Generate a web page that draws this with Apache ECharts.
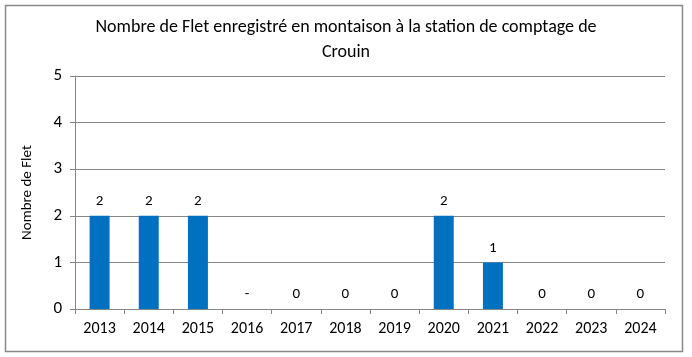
<!DOCTYPE html>
<html><head><meta charset="utf-8">
<script src="https://cdn.jsdelivr.net/npm/echarts@6/dist/echarts.min.js"></script>
<style>html,body{margin:0;padding:0;background:#fff}#c{width:692px;height:357px}</style>
</head><body><div id="c"></div>
<script>
const categories = ['2013','2014','2015','2016','2017','2018','2019','2020','2021','2022','2023','2024'];
const values = [2,2,2,null,0,0,0,2,1,0,0,0];
const yTicks = [0,1,2,3,4,5];
const titleText = 'Nombre de Flet enregistré en montaison à la station de comptage de\nCrouin';
const yName = 'Nombre de Flet';

const font = 'Carlito, Calibri, Lato, "Open Sans", sans-serif';
const chart = echarts.init(document.getElementById('c'));
chart.setOption({
  animation: false,
  graphic: [{type:'rect', shape:{x:5.5,y:5.5,width:677,height:346}, style:{fill:'none', stroke:'#888', lineWidth:1.5}, silent:true}],
  title: {text: titleText, left: 'center', top: 10, textStyle:{fontFamily: font, fontSize: 18, fontWeight:'normal', color:'#000', lineHeight:25}},
  grid: {left: 75, right: 27, top: 76, bottom: 48},
  xAxis: {type:'category', data: categories,
    axisLine:{lineStyle:{color:'#868686'}},
    axisTick:{show:true, alignWithLabel:false, length:5, lineStyle:{color:'#868686'}},
    axisLabel:{fontFamily: font, fontSize:16, color:'#000', margin:12}},
  yAxis: {type:'value', min: yTicks[0], max: yTicks[yTicks.length-1], interval: 1,
    name: yName, nameLocation:'middle', nameGap: 40, nameRotate: 90,
    nameTextStyle:{fontFamily: font, fontSize:15, color:'#000'},
    axisLine:{show:true, lineStyle:{color:'#868686'}},
    axisTick:{show:true, length:5, lineStyle:{color:'#868686'}},
    splitLine:{lineStyle:{color:'#868686'}},
    axisLabel:{fontFamily: font, fontSize:17, color:'#000', margin:13}},
  series: [{type:'bar', barWidth: 20,
    data: values.map(v => v === null ? {value: 0, label:{formatter:'-'}} : v),
    itemStyle:{color:'#0070C0'},
    label:{show:true, position:'top', distance:7, fontFamily: font, fontSize:15, color:'#000'}}]
});
</script></body></html>
